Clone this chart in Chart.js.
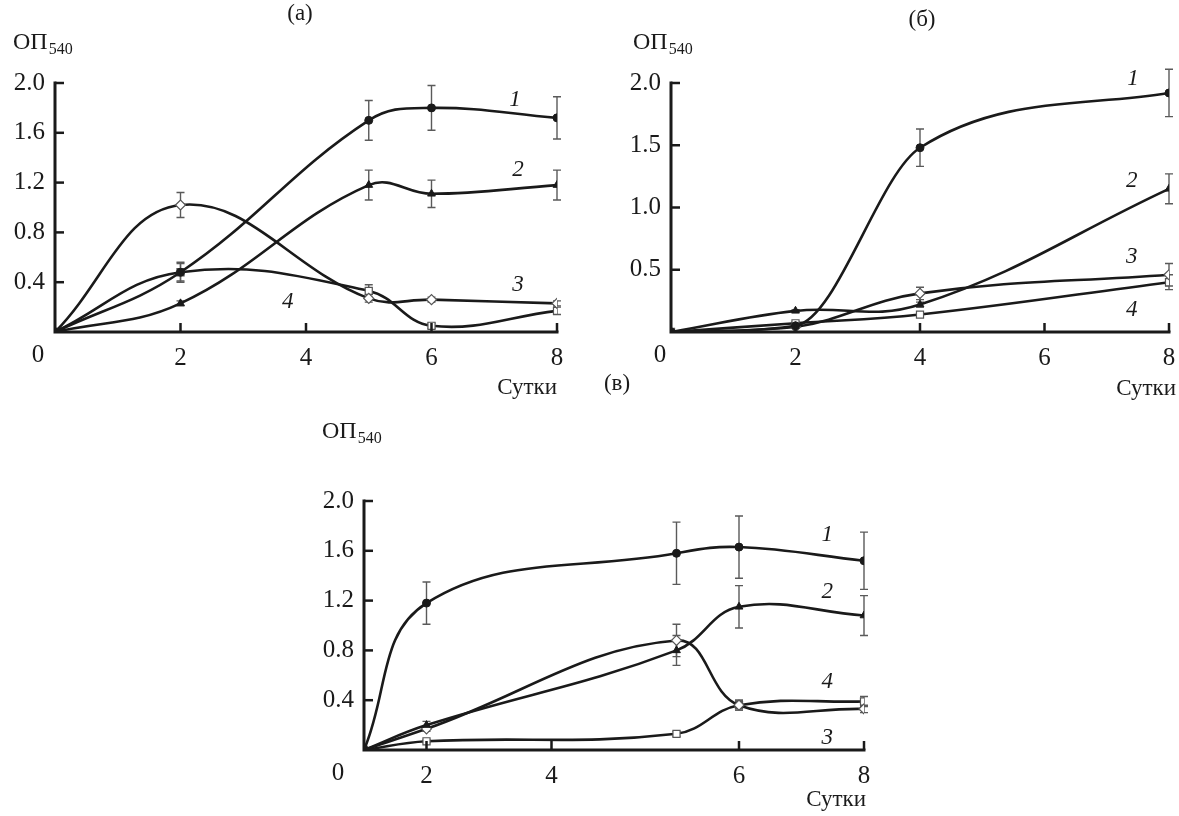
<!DOCTYPE html>
<html>
<head>
<meta charset="utf-8">
<script src="https://cdn.jsdelivr.net/npm/chart.js@4.4.1/dist/chart.umd.min.js"></script>
<style>
  html, body { margin: 0; background: #fff; }
  #wrap { position: relative; width: 1179px; height: 816px; }
  .panel { position: absolute; }
</style>
</head>
<body>
<div id="wrap">
  <div class="panel" style="left:0;top:0;width:600px;height:400px"><canvas id="ca"></canvas></div>
  <div class="panel" style="left:600px;top:0;width:579px;height:400px"><canvas id="cb"></canvas></div>
  <div class="panel" style="left:300px;top:360px;width:600px;height:456px"><canvas id="cc"></canvas></div>
</div>
<script>
// Сутки (дни) для каждой панели
const daysA = [0, 2, 5, 6, 8];
const daysB = [0, 2, 4, 8];
const daysC = [0, 2, 5, 6, 8];

// (а) ОП540 по кривым 1–4 и их ошибки
const a1 = [0, 0.48, 1.70, 1.80, 1.72];
const a2 = [0, 0.23, 1.18, 1.11, 1.18];
const a3 = [0, 1.02, 0.27, 0.26, 0.23];
const a4 = [0, 0.48, 0.33, 0.05, 0.17];
const a1Err = [0, 0.08, 0.16, 0.18, 0.17];
const a2Err = [0, 0.02, 0.12, 0.11, 0.12];
const a3Err = [0, 0.10, 0.03, 0.02, 0.02];
const a4Err = [0, 0.07, 0.05, 0.02, 0.03];

// (б)
const b1 = [0, 0.05, 1.48, 1.92];
const b2 = [0, 0.17, 0.22, 1.15];
const b3 = [0, 0.04, 0.31, 0.46];
const b4 = [0, 0.07, 0.14, 0.40];
const b1Err = [0, 0.02, 0.15, 0.19];
const b2Err = [0, 0.01, 0.02, 0.12];
const b3Err = [0, 0.01, 0.05, 0.09];
const b4Err = [0, 0.01, 0.02, 0.06];

// (в)
const c1 = [0, 1.18, 1.58, 1.63, 1.52];
const c2 = [0, 0.20, 0.80, 1.15, 1.08];
const c3 = [0, 0.17, 0.88, 0.36, 0.33];
const c4 = [0, 0.07, 0.13, 0.36, 0.39];
const c1Err = [0, 0.17, 0.25, 0.25, 0.23];
const c2Err = [0, 0.03, 0.12, 0.17, 0.16];
const c3Err = [0, 0.02, 0.13, 0.04, 0.03];
const c4Err = [0, 0.01, 0.02, 0.04, 0.04];

// подписи делений
const xTicks = [0, 2, 4, 6, 8];
const yTicksA = [0, 0.4, 0.8, 1.2, 1.6, 2.0];
const yTicksB = [0, 0.5, 1.0, 1.5, 2.0];
const yTicksC = [0, 0.4, 0.8, 1.2, 1.6, 2.0];
const curveNames = ['1', '2', '3', '4'];

// на панели (в) ось X в оригинале неравномерная
const KNOTS = {
  cc: { from: [0, 2, 4, 5, 6, 8], to: [0, 1, 3, 5, 6, 8] }
};

const FONT = "'Liberation Serif', 'DejaVu Serif', serif";
const INK = '#1a1a1a';

class KnotScale extends Chart.LinearScale {
  getPixelForValue(value) {
    const k = KNOTS[this.chart.canvas.id];
    if (k && this.axis === 'x' && value != null) {
      const f = k.from, t = k.to;
      let i = 1;
      while (i < f.length - 1 && value > f[i]) i++;
      const r = (value - f[i - 1]) / (f[i] - f[i - 1]);
      value = t[i - 1] + r * (t[i] - t[i - 1]);
    }
    return super.getPixelForValue(value);
  }
}
KnotScale.id = 'knot';
KnotScale.defaults = Chart.LinearScale.defaults;
Chart.register(KnotScale);

// оси с внутренними засечками
const axesPlugin = {
  id: 'axesInward',
  afterDraw(chart) {
    const { ctx, chartArea: a, scales: { x, y } } = chart;
    ctx.save();
    ctx.strokeStyle = INK;
    ctx.lineWidth = 3;
    ctx.lineCap = 'square';
    ctx.beginPath();
    ctx.moveTo(a.left, a.top);
    ctx.lineTo(a.left, a.bottom);
    ctx.lineTo(a.right, a.bottom);
    ctx.stroke();
    ctx.lineCap = 'butt';
    ctx.lineWidth = 2.5;
    x.ticks.forEach(t => {
      if (t.value === 0) return;
      const px = x.getPixelForValue(t.value);
      ctx.beginPath(); ctx.moveTo(px, a.bottom); ctx.lineTo(px, a.bottom - 9); ctx.stroke();
    });
    y.ticks.forEach(t => {
      if (t.value === 0) return;
      const py = y.getPixelForValue(t.value);
      ctx.beginPath(); ctx.moveTo(a.left, py); ctx.lineTo(a.left + 9, py); ctx.stroke();
    });
    ctx.restore();
  }
};

// планки погрешностей
const errPlugin = {
  id: 'errBars',
  beforeDatasetsDraw(chart) {
    const { ctx, scales: { x, y } } = chart;
    ctx.save();
    ctx.strokeStyle = '#5a5a5a';
    ctx.lineWidth = 1.4;
    chart.data.datasets.forEach(ds => {
      ds.data.forEach((p, j) => {
        const e = ds.err[j];
        if (!e) return;
        const px = x.getPixelForValue(p.x);
        const y1 = y.getPixelForValue(p.y + e);
        const y2 = y.getPixelForValue(p.y - e);
        ctx.beginPath();
        ctx.moveTo(px, y1); ctx.lineTo(px, y2);
        ctx.moveTo(px - 4, y1); ctx.lineTo(px + 4, y1);
        ctx.moveTo(px - 4, y2); ctx.lineTo(px + 4, y2);
        ctx.stroke();
      });
    });
    ctx.restore();
  }
};

function notesPlugin(txt) {
  return {
    id: 'notes',
    afterDraw(chart) {
      const { ctx, scales: { x, y } } = chart;
      ctx.save();
      ctx.fillStyle = INK;
      ctx.textBaseline = 'alphabetic';
      // заголовок панели
      ctx.font = '23px ' + FONT;
      ctx.textAlign = 'center';
      ctx.fillText(txt.title, txt.titlePos[0], txt.titlePos[1]);
      // ОП540
      ctx.textAlign = 'left';
      ctx.font = '24px ' + FONT;
      ctx.fillText('ОП', txt.opPos[0], txt.opPos[1]);
      const w = ctx.measureText('ОП').width;
      ctx.font = '16px ' + FONT;
      ctx.fillText('540', txt.opPos[0] + w + 1, txt.opPos[1] + 5);
      // Сутки
      ctx.font = '23px ' + FONT;
      ctx.textAlign = 'right';
      ctx.fillText('Сутки', txt.daysPos[0], txt.daysPos[1]);
      // начало координат
      ctx.font = '25px ' + FONT;
      ctx.textAlign = 'center';
      ctx.textBaseline = 'middle';
      ctx.fillText('0', txt.zeroPos[0], txt.zeroPos[1]);
      // номера кривых
      ctx.font = 'italic 23px ' + FONT;
      txt.curveAt.forEach((c, i) => {
        ctx.fillText(curveNames[i], x.getPixelForValue(c[0]), y.getPixelForValue(c[1]));
      });
      ctx.restore();
    }
  };
}

function series(xs, ys, err, style, mode) {
  const hollow = style === 'rectRot' || style === 'rect';
  return {
    data: xs.map((d, i) => ({ x: d, y: ys[i] })),
    err: err,
    borderColor: INK,
    borderWidth: 2.6,
    tension: 0.4,
    cubicInterpolationMode: mode || 'default',
    pointStyle: style,
    pointRadius: style === 'triangle' ? 4.5 : (hollow ? 5 : 4),
    pointBackgroundColor: hollow ? '#fff' : INK,
    pointBorderColor: hollow ? '#555' : INK,
    pointBorderWidth: hollow ? 1.2 : 1,
    fill: false
  };
}

function makePanel(id, datasets, yTicks, box, txt) {
  new Chart(document.getElementById(id), {
    type: 'line',
    data: { datasets },
    options: {
      animation: false,
      responsive: true,
      maintainAspectRatio: false,
      events: [],
      layout: { padding: { left: 0, top: box.top, right: box.right, bottom: 0 } },
      plugins: { legend: { display: false }, tooltip: { enabled: false } },
      scales: {
        x: {
          type: 'knot', min: 0, max: 8,
          grid: { display: false }, border: { display: false },
          afterBuildTicks: s => { s.ticks = xTicks.map(v => ({ value: v })); },
          afterFit: s => { s.height = box.xh; },
          ticks: {
            autoSkip: false, maxRotation: 0, padding: 3, color: INK,
            font: { family: FONT, size: 25 },
            callback: v => (v === 0 ? '' : String(v))
          }
        },
        y: {
          type: 'linear', min: 0, max: 2,
          grid: { display: false }, border: { display: false },
          afterBuildTicks: s => { s.ticks = yTicks.map(v => ({ value: v })); },
          afterFit: s => { s.width = box.yw; },
          ticks: {
            autoSkip: false, padding: 2, color: INK,
            font: { family: FONT, size: 25 },
            callback: v => (v === 0 ? '' : v.toFixed(1))
          }
        }
      }
    },
    plugins: [errPlugin, axesPlugin, notesPlugin(txt)]
  });
}

makePanel('ca', [
  series(daysA, a1, a1Err, 'circle'),
  series(daysA, a2, a2Err, 'triangle'),
  series(daysA, a3, a3Err, 'rectRot'),
  series(daysA, a4, a4Err, 'rect')
], yTicksA, { top: 83, right: 43, xh: 68, yw: 55 }, {
  title: '(а)', titlePos: [300, 20],
  opPos: [13, 49], daysPos: [557, 394], zeroPos: [38, 355],
  curveAt: [[7.33, 1.86], [7.38, 1.30], [7.38, 0.38], [3.71, 0.24]]
});

makePanel('cb', [
  series(daysB, b1, b1Err, 'circle', 'monotone'),
  series(daysB, b2, b2Err, 'triangle'),
  series(daysB, b3, b3Err, 'rectRot'),
  series(daysB, b4, b4Err, 'rect')
], yTicksB, { top: 83, right: 10, xh: 68, yw: 71 }, {
  title: '(б)', titlePos: [322, 26],
  opPos: [33, 49], daysPos: [576, 395], zeroPos: [60, 355],
  curveAt: [[7.42, 2.03], [7.40, 1.21], [7.40, 0.60], [7.40, 0.18]]
});

makePanel('cc', [
  series(daysC, c1, c1Err, 'circle'),
  series(daysC, c2, c2Err, 'triangle'),
  series(daysC, c3, c3Err, 'rectRot'),
  series(daysC, c4, c4Err, 'rect')
], yTicksC, { top: 141, right: 36, xh: 66, yw: 64 }, {
  title: '(в)', titlePos: [317, 30],
  opPos: [22, 78], daysPos: [566, 446], zeroPos: [38, 413],
  curveAt: [[7.41, 1.73], [7.41, 1.27], [7.41, 0.10], [7.41, 0.55]]
});
</script>
</body>
</html>
